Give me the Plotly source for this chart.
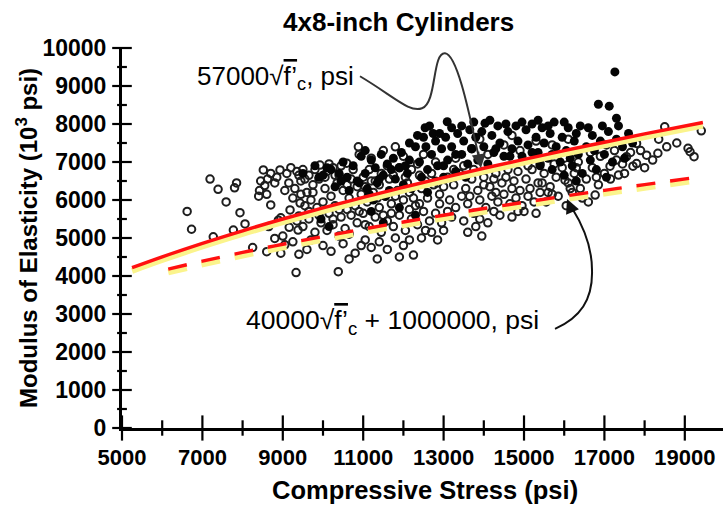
import plotly.graph_objects as go

# ---------------- data ----------------
open_pts = [
    (6620,5700),(6730,5230),(7190,6550),(7390,6280),(7590,5950),(7850,6450),(7800,6320),(7935,5665),
    (8060,5370),(7770,5210),(7270,5030),(8250,4750),(8800,4990),(8600,4640),(9330,4090),(10380,4115),
    (9400,4570),(8950,4600),(9050,4820),
    (8515,6790),(8450,6500),(8550,6380),(8420,6250),(8620,6550),(8700,6700),(8800,6450),(8930,6790),
    (8850,6600),(8400,6100),(8600,6150),(8700,5870),(8890,5470),(9180,5740),(9430,5920),(9380,5210),
    (8950,5530),(9160,5280),(9400,5580),(9000,5050),(9250,4900),(8650,5300),
    (9100,6700),(9200,6850),(9350,6750),(9500,6800),(9650,6650),(9800,6800),(9925,6920),(10100,6750),
    (10250,6850),(10400,6650),(10590,6970),(10880,7400),(10750,6800),(9150,6450),(9300,6300),(9450,6500),
    (9600,6200),(9750,6400),(9900,6550),(10050,6300),(10200,6100),(10350,6450),(10500,6250),(9250,6050),
    (9550,5850),(9700,6000),(9850,5800),(10000,5950),(10150,5650),(10300,5850),(10450,5550),(9350,5450),
    (9500,5300),(9650,5500),(9800,5150),(9950,5400),(10100,5200),(10250,5350),(10400,5050),(10550,5250),
    (9700,4950),(10000,4800),(10200,4650),(10500,4850),(9600,4700),(10650,4450),(10800,4600),
    (10700,6550),(10850,6350),(11000,6600),(11150,6800),(11300,6500),(11450,6700),(11600,6900),(11750,6650),
    (11900,6850),(12050,6600),(12200,6800),(12350,6950),(10650,6050),(10800,5850),(10950,6150),(11100,5950),
    (11250,6200),(11400,5800),(11550,6100),(11700,5900),(11850,6250),(12000,6000),(12150,6200),(12300,5850),
    (12450,6300),(12600,6050),(12750,6400),(12900,6150),(10700,5600),(10850,5400),(11000,5650),(11150,5300),
    (11300,5550),(11450,5150),(11600,5450),(11750,5300),(11900,5600),(12050,5200),(12200,5500),(12350,5350),
    (12500,5700),(12650,5450),(12800,5650),(12950,5400),(11050,4950),(11200,4750),(11400,4900),(11600,4700),
    (11800,5000),(12000,4800),(12250,4550),(12450,5000),(11900,4500),(11350,4450),(12700,5150),(12850,4950),
    (13000,5200),(10900,7200),(11200,7100),(11500,7300),(12000,7150),(12500,7200),(12800,7000),(11800,7400),
    (13100,6600),(13250,6400),(13400,6700),(13550,6300),(13700,6550),(13850,6250),(14000,6600),(14150,6350),
    (14300,6700),(14450,6450),(14600,6800),(14750,6500),(14900,6250),(15050,6550),(15200,6800),(15350,6450),
    (15500,6700),(15650,6350),(15800,6600),(15950,6850),(16100,6450),(16250,6700),(16400,6300),(16550,6550),
    (16700,6850),(16850,6400),(17000,6700),(13150,6000),(13300,5800),(13450,6100),(13600,5900),(13750,5650),
    (13900,6000),(14050,5800),(14200,6100),(14350,5950),(14500,6150),(14650,5900),(14800,6050),(14950,5850),
    (15100,6100),(15250,5950),(15400,6200),(15550,5950),(15700,6150),(15850,6100),(16020,6520),(16200,6200),
    (16450,6050),(16770,6130),(16600,5950),(13200,5550),(13500,5450),(13800,5300),(14100,5400),(14400,5600),
    (14700,5550),(15000,5700),(15300,5650),(13600,5150),(13950,5050),
    (13300,7100),(13700,7350),(14100,7200),(14500,7450),(14900,7300),(15300,7550),(15700,7450),(16100,7600),
    (13900,7600),(14700,7700),
    (17140,6890),(17350,6655),(17550,7140),(17710,6890),(17800,7490),(17800,6960),(18050,7180),(18330,7230),
    (18550,7400),(18500,7925),(19080,7360),(19130,7270),(19230,7140),(19410,7820),(17250,7300),(17450,6950),
    (17650,7250),(18200,7050),(17900,7300),(16900,7150),(17050,7450),
    (9050,6250),(9400,6650),(9550,6550),(9750,6200),(10050,6600),(10150,6950),(10450,6900),(10600,6400),
    (10300,6650),(9450,6150),(9650,5700),(9900,5600),(10250,5500),(10400,5750),(10600,5750),(10900,5700),
    (11050,6350),(11200,6500),(11400,6400),(11650,6550),(11800,6100),(12100,6450),(12250,6050),(12400,6650),
    (12550,6500),(12700,6700),(12850,6450),(13000,6350),(11350,6050),(11700,5650),(12150,5750),(12550,5200),
    (12400,5900),(12900,5900),(13100,5700),(11500,5600),(11050,5350),(10650,5100),(10950,4800),(12150,4950),
    (13250,6800),(13500,6900),(13750,6800),(14250,6550),(14550,6600),(14850,6750),(15100,6900),(15400,6950),
    (15750,6950),(16000,7100),(16350,7000),(16650,7250),(14000,6400),(14700,6300),(15450,6450),(16150,6300),
    (16800,6600),(13650,6100),(14300,6200),(15150,6300),(15600,6200),(16300,6850),(13900,5500),(14250,5700),
    (14850,5700),(16050,5850),(17150,6550),(17500,6700),(18000,6850),(18350,7600),(18800,7500),(17300,7050),
]
open_x = [p[0] for p in open_pts]
open_y = [p[1] for p in open_pts]

filled_pts = [
    (17260,9370),(16850,8520),(17120,8470),(12540,7900),(13090,8060),(12740,7750),
    (10750,6900),(10850,6500),(10950,7150),(11050,6700),(11100,6300),(11200,7050),(11300,6850),(11350,6450),
    (11450,7200),(11500,6650),(11600,6950),(11650,6250),(11750,7100),(11800,6550),(11900,6850),(11950,7250),
    (12000,6400),(12100,6700),(12150,7050),(10600,6600),(10500,7000),(10400,6700),(10300,6350),(11050,7300),
    (11550,6100),(12200,6300),(9900,6600),(10100,6850),(11250,6000),(10650,6250),
    (9500,6700),(9800,6900),(10000,6650),(10200,6800),(9950,5500),(10150,5300),(11200,5700),(11500,5400),
    (11900,5800),(12300,5600),(12600,6200),(12800,6500),(13000,6900),
    (12300,7400),(12400,7000),(12500,7650),(12560,7400),(12600,6800),(12700,7200),(12800,7550),(12850,6900),
    (12950,7350),(13050,7650),(13100,7050),(13200,7400),(13300,6750),(13350,7750),(13450,7200),(13500,7550),
    (13600,6950),(13650,7850),(13700,7350),(13800,7650),(13850,7050),(13950,7800),(14000,7400),(14030,8020),
    (14100,6950),(14200,7700),(14250,7250),(14350,7950),(14400,7500),(14500,7150),(12450,6600),(13000,6600),
    (13550,6600),
    (14600,7800),(14700,7350),(14800,7950),(14850,7550),(14950,7150),(15050,7850),(15100,7450),(15200,8000),
    (15300,7650),(15350,7250),(15450,7900),(15500,7500),(15600,7100),(15650,7750),(15750,8050),(15800,7400),
    (15900,7000),(15950,7650),(16050,7300),(16100,7900),(16200,6900),(16250,7550),(16350,7200),(16400,7950),
    (16450,6700),(16550,7400),(16650,7050),(16700,7700),(16800,6800),(16900,7550),(17000,7200),(17100,7800),
    (17200,7000),(17300,7600),(17450,7400),(17600,7750),(17700,7500),(16000,6650),(15700,6800),(16300,6500),
    (15400,6900),(17050,6600),(17350,7950),
    (12150,7500),(12350,7700),(12650,7950),(12900,7750),(13200,7900),(13450,7950),(13750,8050),(14150,8100),
    (14550,8000),(14950,8050),(15350,8100),(15600,7950),(16000,8050),(16300,7750),(16600,7900),(16950,7950),
    (17300,8150),(14300,7350),(14650,7150),(15200,7250),(15700,7200),(16150,7100),(16750,7300),(17500,7100),
    (11400,6550),(11700,6800),(12050,6900),(10450,6500),(10900,6450),(11150,6150),(13300,7200),
]
filled_x = [p[0] for p in filled_pts]
filled_y = [p[1] for p in filled_pts]

solid_x = [5250, 6000, 7000, 8000, 9000, 10000, 11000, 12000, 13000, 14000, 15000, 16000, 17000, 18000, 19450]
solid_y = [4220, 4505, 4860, 5190, 5500, 5790, 6070, 6335, 6590, 6835, 7070, 7300, 7520, 7740, 8040]
dashed_x = [6150, 7000, 8000, 9000, 10000, 11000, 12000, 13000, 14000, 15000, 16000, 17000, 18000, 19150]
dashed_y = [4180, 4390, 4620, 4835, 5040, 5235, 5420, 5600, 5775, 5940, 6100, 6255, 6405, 6575]

x_tick_vals = [5000, 7000, 9000, 11000, 13000, 15000, 17000, 19000]
x_minor_vals = [6000, 8000, 10000, 12000, 14000, 16000, 18000]
y_tick_vals = [0, 1000, 2000, 3000, 4000, 5000, 6000, 7000, 8000, 9000, 10000]
y_minor_vals = [500, 1500, 2500, 3500, 4500, 5500, 6500, 7500, 8500, 9500]

# ---------------- layout geometry ----------------
W, H = 723, 506
ML, MR, MT, MB = 122, 0, 47.7, 77.7
PW, PH = W - ML - MR, H - MT - MB
XR = [5000, 19950]
YR = [0, 10000]
FONT = "Liberation Sans, Arial, sans-serif"
YELLOW = "#fbf48c"
RED = "#ff1010"

def paper(px, py):
    return (px - ML) / PW, (H - MB - py) / PH

units_per_px_y = (YR[1] - YR[0]) / PH
yellow_shift = 3.2 * units_per_px_y

fig = go.Figure()

fig.add_trace(go.Scatter(x=open_x, y=open_y, mode="markers",
                         marker=dict(symbol="circle-open", size=7.5, color="#1e1e1e",
                                     line=dict(width=2, color="#1e1e1e")),
                         hoverinfo="skip"))
fig.add_trace(go.Scatter(x=filled_x, y=filled_y, mode="markers",
                         marker=dict(symbol="circle", size=9, color="#050505"),
                         hoverinfo="skip"))

# solid curve: yellow under-stroke then red
fig.add_trace(go.Scatter(x=solid_x, y=[v - yellow_shift for v in solid_y], mode="lines",
                         line=dict(color=YELLOW, width=6, shape="spline"), hoverinfo="skip"))
fig.add_trace(go.Scatter(x=solid_x, y=solid_y, mode="lines",
                         line=dict(color=RED, width=3.4, shape="spline"), hoverinfo="skip"))
# dashed curve
fig.add_trace(go.Scatter(x=dashed_x, y=[v - yellow_shift for v in dashed_y], mode="lines",
                         line=dict(color=YELLOW, width=6, dash="19px,15px", shape="spline"),
                         hoverinfo="skip"))
fig.add_trace(go.Scatter(x=dashed_x, y=dashed_y, mode="lines",
                         line=dict(color=RED, width=3.4, dash="19px,15px", shape="spline"),
                         hoverinfo="skip"))

# crossing tick marks (drawn as line markers on the axes)
tick_line = dict(width=2.2, color="black")
fig.add_trace(go.Scatter(x=x_tick_vals, y=[YR[0]] * len(x_tick_vals), mode="markers", cliponaxis=False,
                         marker=dict(symbol="line-ns", size=18, line=tick_line), hoverinfo="skip"))
fig.add_trace(go.Scatter(x=x_minor_vals, y=[YR[0]] * len(x_minor_vals), mode="markers", cliponaxis=False,
                         marker=dict(symbol="line-ns", size=11, line=tick_line), hoverinfo="skip"))
fig.add_trace(go.Scatter(x=[XR[0]] * len(y_tick_vals), y=y_tick_vals, mode="markers", cliponaxis=False,
                         marker=dict(symbol="line-ew", size=14, line=tick_line), hoverinfo="skip"))
fig.add_trace(go.Scatter(x=[XR[0]] * len(y_minor_vals), y=y_minor_vals, mode="markers", cliponaxis=False,
                         marker=dict(symbol="line-ew", size=7, line=tick_line), hoverinfo="skip"))

shapes = []

def path_from(points_cmd):
    out = []
    for tok in points_cmd:
        if isinstance(tok, str):
            out.append(tok)
        else:
            px, py = paper(*tok)
            out.append(f"{px:.5f},{py:.5f}")
    return " ".join(out)

arrow1 = ["M", (360, 76), "C", (395, 97), (410, 113), (422, 108),
          "C", (437, 103), (432, 52), (445, 53),
          "C", (458, 54), (471, 122), (479, 158)]
arrow2 = ["M", (555, 329), "C", (580, 318), (593, 300), (592, 270),
          "C", (592, 245), (582, 224), (572, 208)]
shapes.append(dict(type="path", xref="paper", yref="paper", path=path_from(arrow1),
                   line=dict(color="#333333", width=2)))
shapes.append(dict(type="path", xref="paper", yref="paper", path=path_from(arrow2),
                   line=dict(color="#111111", width=2)))

annotations = []
# arrowheads
for tip, (ax, ay), col in [((481, 168), (-3, -18), "#333333"), ((567, 199), (6, 14), "#111111")]:
    tx, ty = paper(*tip)
    annotations.append(dict(xref="paper", yref="paper", x=tx, y=ty, text="", showarrow=True,
                            ax=ax, ay=ay, arrowhead=2, arrowsize=1.4, arrowwidth=2, arrowcolor=col))

def add_text(text, px, py, size, bold=False, xanchor="center", angle=0):
    x, y = paper(px, py)
    annotations.append(dict(xref="paper", yref="paper", x=x, y=y, text=text, showarrow=False,
                            xanchor=xanchor, yanchor="middle", textangle=angle,
                            font=dict(family=FONT, size=size, color="black",
                                      weight="bold" if bold else "normal")))

add_text("4x8-inch Cylinders", 398, 22, 26, bold=True)
add_text("Compressive Stress (psi)", 425, 490, 25.5, bold=True)
add_text("Modulus of Elasticity (10<sup>3</sup> psi)", 27, 238, 24, bold=True, angle=-90)
add_text("57000√<span style='text-decoration:overline'>f’</span><sub>c</sub>, psi", 195, 77, 26,
         xanchor="left")
add_text("40000√<span style='text-decoration:overline'>f’</span><sub>c</sub> + 1000000, psi", 244, 322, 26.5,
         xanchor="left")

fig.update_layout(
    width=W, height=H, margin=dict(l=ML, r=MR, t=MT, b=MB),
    paper_bgcolor="white", plot_bgcolor="white", showlegend=False,
    shapes=shapes, annotations=annotations,
    xaxis=dict(range=XR, showgrid=False, zeroline=False, showline=True, linecolor="black",
               linewidth=3, ticks="", tickvals=x_tick_vals,
               ticktext=[str(v) for v in x_tick_vals], ticklabelstandoff=8,
               tickfont=dict(family=FONT, size=22, color="black", weight="bold")),
    yaxis=dict(range=YR, showgrid=False, zeroline=False, showline=True, linecolor="black",
               linewidth=3, ticks="", tickvals=y_tick_vals,
               ticktext=[str(v) for v in y_tick_vals], ticklabelstandoff=8,
               tickfont=dict(family=FONT, size=23, color="black", weight="bold")),
)

fig.write_html("out.html")
